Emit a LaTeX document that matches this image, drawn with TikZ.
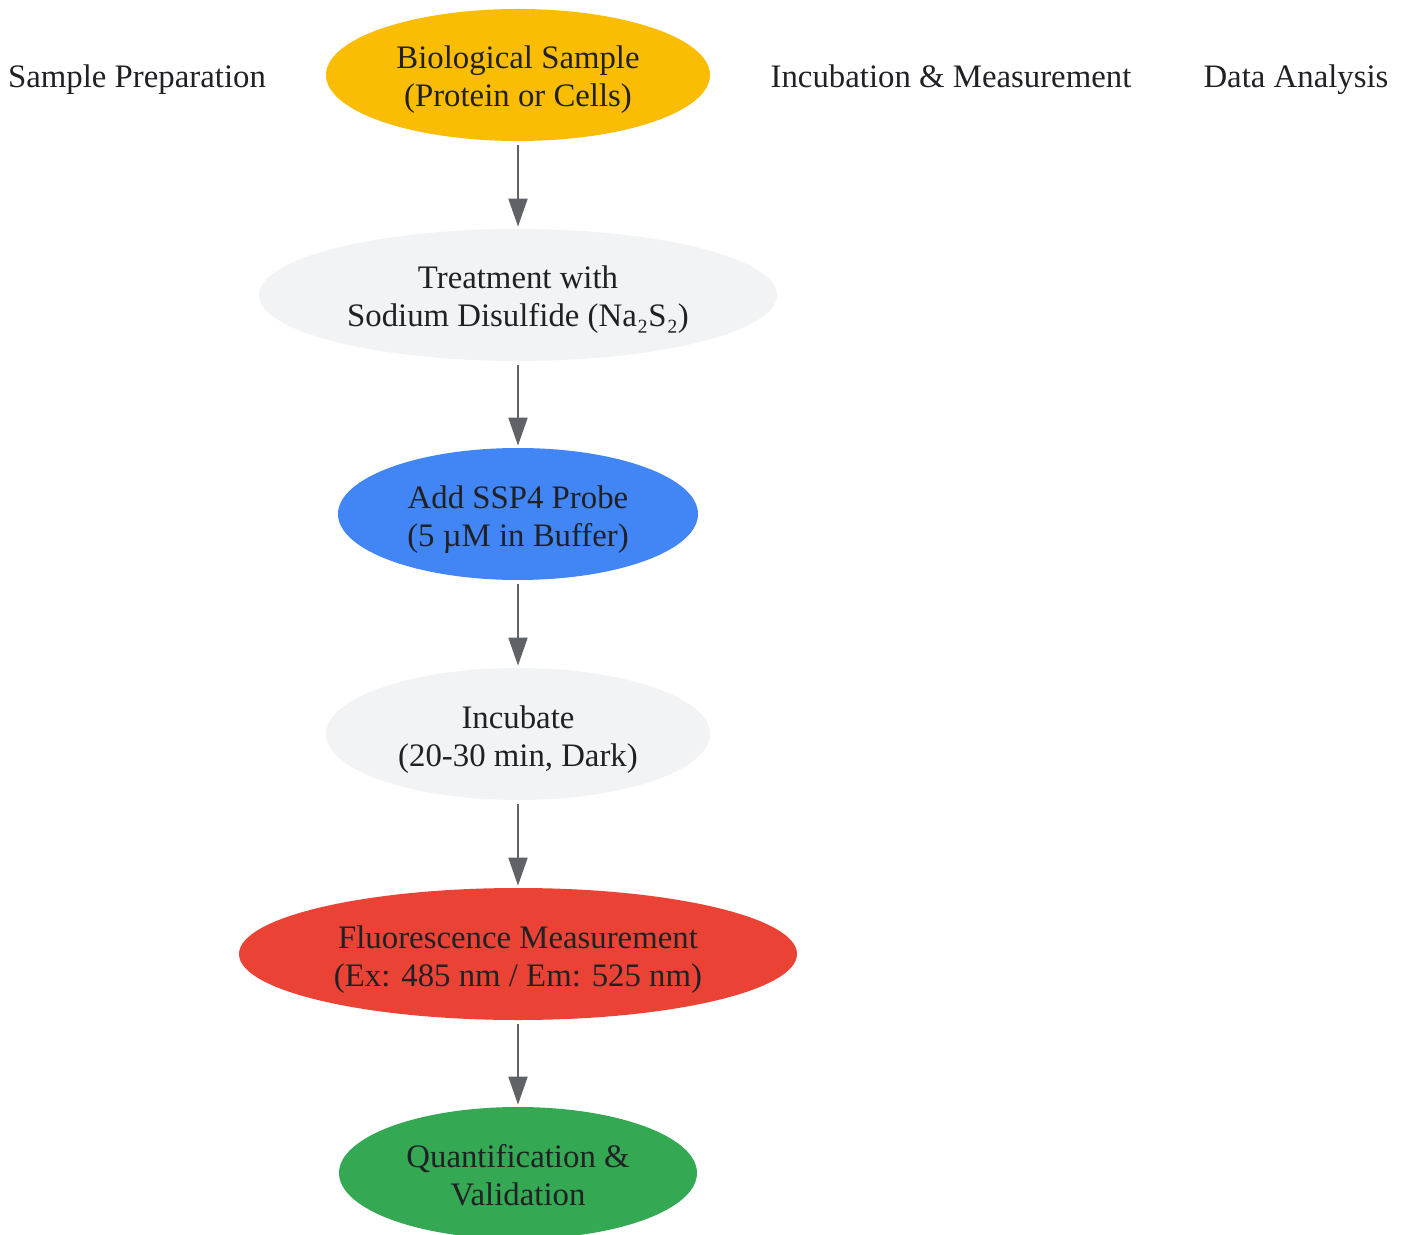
\documentclass[tikz,border=0pt]{standalone}
\usepackage{fontspec}
\setmainfont{Liberation Serif}
\usetikzlibrary{positioning,shapes.geometric,arrows.meta}

\definecolor{inkgray}{HTML}{202124}
\definecolor{arrowgray}{HTML}{5F6368}
\definecolor{sampleyellow}{HTML}{FBBC04}
\definecolor{steplight}{HTML}{F1F3F4}
\definecolor{probeblue}{HTML}{4285F4}
\definecolor{measurered}{HTML}{EA4335}
\definecolor{resultgreen}{HTML}{34A853}

% two centred lines with fixed top and bottom struts
\newcommand{\twolines}[2]{\rule{0pt}{17pt}#1\\#2\rule[-4pt]{0pt}{4pt}}

\tikzset{
	stage/.style={ellipse, draw=none, inner sep=0pt, minimum height=66pt,
		align=center, text=inkgray, font=\fontsize{16.4pt}{19pt}\selectfont},
	lane/.style={text=inkgray, text height=11.5pt, text depth=0.5pt,
		font=\fontsize{16.4pt}{19pt}\selectfont},
	flow/.style={draw=arrowgray, line width=1pt, -{Triangle[length=14pt,width=9.5pt]},
		shorten <=2pt, shorten >=1pt}
}

\begin{document}
\begin{tikzpicture}[x=0.5pt, y=-0.5pt]
	\useasboundingbox (0, 0) rectangle (1408, 1235);

	\node[lane] (prep) at (137, 77) {Sample Preparation};
	\node[lane] (incmeas) at (951, 77) {Incubation \& Measurement};
	\node[lane] (analysis) at (1296, 77) {Data Analysis};

	\node[stage, fill=sampleyellow, minimum width=192pt] (sample) at (518, 75) {\twolines{Biological Sample}{(Protein or Cells)}};
	\node[stage, fill=steplight, minimum width=259pt] (treat) at (518, 295) {\twolines{Treatment with}{Sodium Disulfide (Na₂S₂)}};
	\node[stage, fill=probeblue, minimum width=180pt] (probe) at (518, 514) {\twolines{Add SSP4 Probe}{(5 µM in Buffer)}};
	\node[stage, fill=steplight, minimum width=192pt] (incubate) at (518, 734) {\twolines{Incubate}{(20-30 min, Dark)}};
	\node[stage, fill=measurered, minimum width=279pt] (fluor) at (518, 954) {\twolines{Fluorescence Measurement}{(Ex: 485 nm / Em: 525 nm)}};
	\node[stage, fill=resultgreen, minimum width=179pt] (quant) at (518, 1173) {\twolines{Quantification \&}{Validation}};

	\draw[flow] (sample) -- (treat);
	\draw[flow] (treat) -- (probe);
	\draw[flow] (probe) -- (incubate);
	\draw[flow] (incubate) -- (fluor);
	\draw[flow] (fluor) -- (quant);
\end{tikzpicture}
\end{document}
